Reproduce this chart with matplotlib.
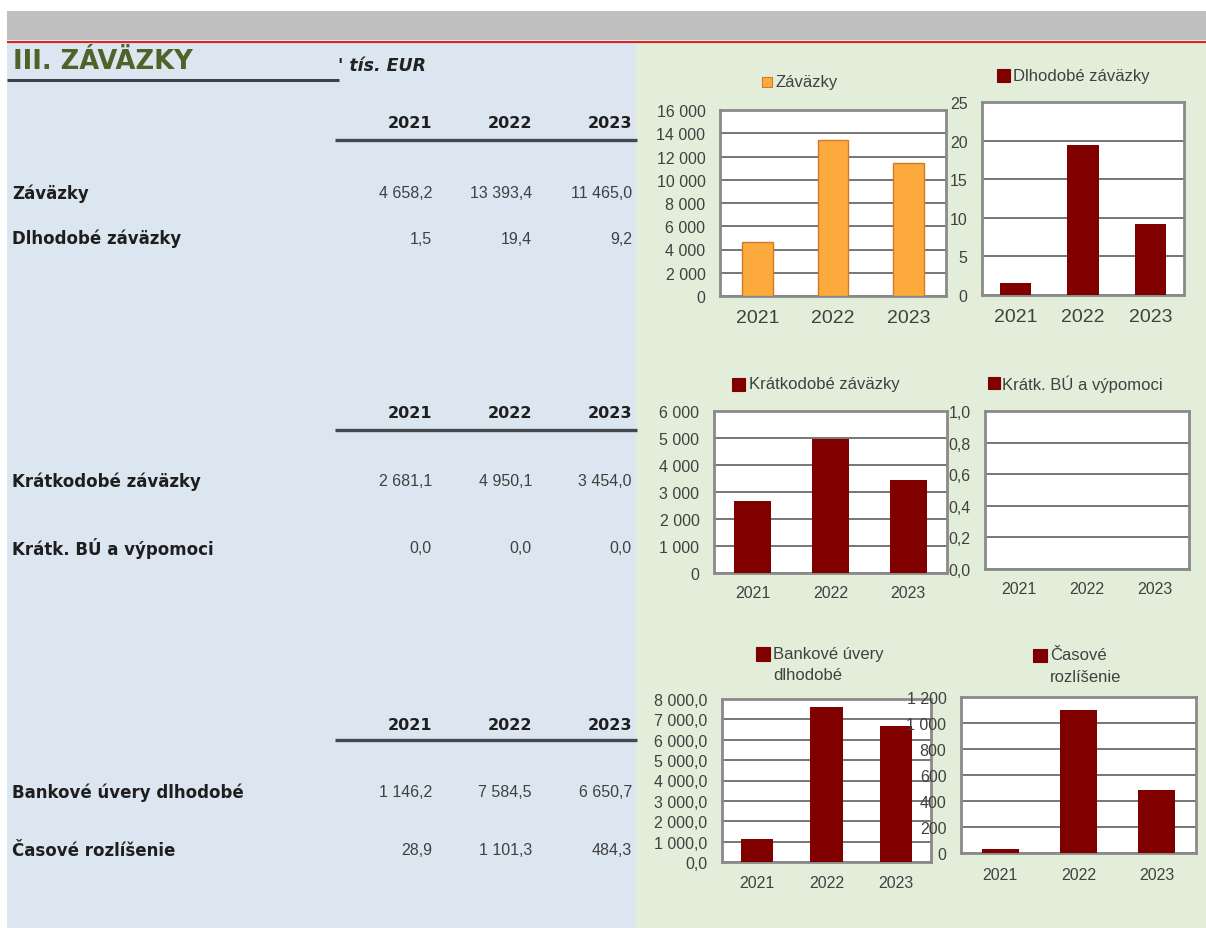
import matplotlib
matplotlib.use("Agg")
import matplotlib.pyplot as plt
from matplotlib.patches import Rectangle
from matplotlib.lines import Line2D
from matplotlib.ticker import FixedLocator, FuncFormatter
import numpy as np

plt.rcParams['font.family'] = ['Liberation Sans', 'DejaVu Sans']

# ---------------- data ----------------
years = ["2021", "2022", "2023"]
zavazky = [4658.2, 13393.4, 11465.0]
dlhodobe = [1.5, 19.4, 9.2]
kratkodobe = [2681.1, 4950.1, 3454.0]
kratk_bu = [0.0, 0.0, 0.0]
bankove = [1146.2, 7584.5, 6650.7]
casove = [28.9, 1101.3, 484.3]

title = "III. ZÁVÄZKY"
unit = "' tís. EUR"
row_labels = ["Záväzky", "Dlhodobé záväzky", "Krátkodobé záväzky",
              "Krátk. BÚ a výpomoci", "Bankové úvery dlhodobé", "Časové rozlíšenie"]
legend_labels = ["Záväzky", "Dlhodobé záväzky", "Krátkodobé záväzky",
                 "Krátk. BÚ a výpomoci", "Bankové úvery\ndlhodobé", "Časové\nrozlíšenie"]

W, H = 1206, 929
fig = plt.figure(figsize=(W / 100, H / 100), dpi=100)
fig.patch.set_facecolor("white")

BOLDFAM = ['DejaVu Sans']


def fx(x):
    return x / W


def fy(y):
    return 1 - y / H


def rect(x0, y0, x1, y1, fc, ec="none", lw=0, z=0):
    fig.add_artist(Rectangle((fx(x0), fy(y1)), fx(x1) - fx(x0), fy(y0) - fy(y1),
                             transform=fig.transFigure, facecolor=fc,
                             edgecolor=ec, lw=lw, zorder=z))


def hline(x0, x1, y, color, lw, z=1):
    fig.add_artist(Line2D([fx(x0), fx(x1)], [fy(y), fy(y)], transform=fig.transFigure,
                          color=color, lw=lw, zorder=z, solid_capstyle="butt"))


def fmt_num(v, dec=1):
    s = f"{v:,.{dec}f}"
    return s.replace(",", " ").replace(".", ",")


# ---------------- backgrounds ----------------
BLUE = "#DCE6F1"
GREEN = "#E3EEDA"
rect(7, 12, W, 41, "#C0C0C0")
rect(7, 44, 636, H, BLUE)
rect(636, 44, W, H, GREEN)
hline(7, W, 42.5, "#D8262B", 1.6, z=2)

# ---------------- table ----------------
fig.text(fx(13), fy(62), title, fontsize=18.5, fontweight="bold", color="#4F6228",
         va="center", ha="left", family=BOLDFAM)
hline(7, 339, 81, "#3C4248", 2.2)
fig.text(fx(338), fy(66), unit, fontsize=12.5, fontweight="bold", style="italic",
         color="#222222", va="center", ha="left", family=BOLDFAM)

col_right = [432, 532, 632]
blocks = [
    (123, 141, [(194, row_labels[0], zavazky), (239, row_labels[1], dlhodobe)]),
    (413, 431, [(482, row_labels[2], kratkodobe), (549, row_labels[3], kratk_bu)]),
    (726, 741, [(793, row_labels[4], bankove), (851, row_labels[5], casove)]),
]
for hy, ly, rows in blocks:
    for xr, yr in zip(col_right, years):
        fig.text(fx(xr), fy(hy), yr, fontsize=11.5, fontweight="bold", color="#1E1E1E",
                 ha="right", va="center", family=BOLDFAM)
    hline(335, 637, ly, "#44494F", 2.4)
    for ry, lab, vals in rows:
        fig.text(fx(12), fy(ry), lab, fontsize=12, fontweight="bold", color="#1E1E1E",
                 ha="left", va="center", family=BOLDFAM)
        for xr, v in zip(col_right, vals):
            fig.text(fx(xr), fy(ry), fmt_num(v, 1), fontsize=11.5, color="#404040",
                     ha="right", va="center")

# ---------------- charts ----------------
DARKRED = "#800000"
ORANGE = "#FCAA3C"


def chart(box, values, ymax, step, dec, color, edge, barw, xsize, ysize, xpad,
          leg_sq, leg_xy, leg_text, leg_lh=21):
    l, t, r, b = box
    ax = fig.add_axes([fx(l), fy(b), fx(r) - fx(l), fy(t) - fy(b)])
    ax.set_facecolor("white")
    ax.bar(range(len(values)), values, width=barw, color=color, edgecolor=edge,
           linewidth=1.0 if edge != "none" else 0, zorder=3)
    ax.set_xlim(-0.5, len(values) - 0.5)
    ax.set_ylim(0, ymax)
    ax.yaxis.set_major_locator(FixedLocator(np.arange(0, ymax + step / 2, step)))
    ax.yaxis.set_major_formatter(FuncFormatter(lambda v, p: fmt_num(v, dec)))
    ax.set_xticks(range(len(values)))
    ax.set_xticklabels(years)
    ax.yaxis.grid(True, color="#6B6B6B", lw=1.3, zorder=1)
    ax.set_axisbelow(True)
    for s in ax.spines.values():
        s.set_color("#8A8A8A")
        s.set_linewidth(2)
    ax.tick_params(axis="y", length=0, pad=10.5, labelsize=ysize, labelcolor="#404040")
    ax.tick_params(axis="x", length=0, pad=xpad, labelsize=xsize, labelcolor="#404040")
    sx0, sy0, sx1, sy1 = leg_sq
    rect(sx0, sy0, sx1, sy1, color, ec=(edge if edge != "none" else color), lw=0.8, z=5)
    lines = leg_text.split("\n")
    for i, ln in enumerate(lines):
        fig.text(fx(leg_xy[0]), fy(leg_xy[1] + i * leg_lh), ln, fontsize=12,
                 color="#404040", ha="left", va="center", zorder=5)
    return ax


chart((720, 111, 946, 297), zavazky, 16000, 2000, 0, ORANGE, "#D27A2A", 0.41, 14, 11.5, 9.5,
      (762, 78, 772, 88), (775, 83), legend_labels[0])
chart((982, 103, 1184, 296), dlhodobe, 25, 5, 0, DARKRED, "none", 0.47, 14, 11.5, 9.5,
      (997, 70, 1010, 83), (1013, 76), legend_labels[1])
chart((714, 412, 947, 574), kratkodobe, 6000, 1000, 0, DARKRED, "none", 0.48, 11.5, 11.5, 9.0,
      (732, 379, 745, 392), (749, 385), legend_labels[2])
chart((985, 412, 1189, 570), kratk_bu, 1.0, 0.2, 1, DARKRED, "none", 0.47, 11.5, 11.5, 9.0,
      (988, 378, 1000, 390), (1002, 384), legend_labels[3])
chart((722, 700, 931, 863), bankove, 8000, 1000, 1, DARKRED, "none", 0.46, 11.5, 11.5, 9.5,
      (756, 648, 770, 662), (773, 655), legend_labels[4])
chart((961, 698, 1196, 854), casove, 1200, 200, 0, DARKRED, "none", 0.47, 11.5, 11.5, 10.0,
      (1033, 650, 1047, 663), (1050, 656), legend_labels[5])

fig.savefig("out.png", dpi=100)
